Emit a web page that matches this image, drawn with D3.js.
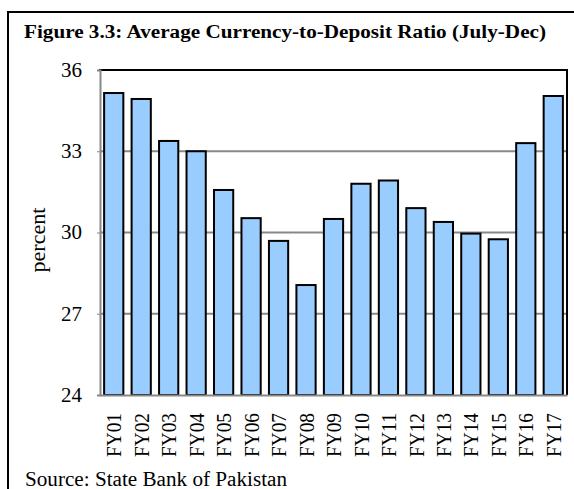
<!DOCTYPE html>
<html>
<head>
  <title>Currency-to-Deposit Ratio</title>
  <script src="https://d3js.org/d3.v7.min.js"></script>
  <style type="text/css">
    body { margin: 0; background: #fff; }
    svg { font-family: "Liberation Serif", "Times New Roman", serif; }
  </style>
</head>
<body>
  <div id="chart"></div>
  <script type="text/javascript">
    var years = ["FY01", "FY02", "FY03", "FY04", "FY05", "FY06", "FY07", "FY08", "FY09",
      "FY10", "FY11", "FY12", "FY13", "FY14", "FY15", "FY16", "FY17"];
    var ratios = [35.15, 34.93, 33.38, 33.0, 31.57, 30.53, 29.69, 28.06, 30.5,
      31.8, 31.92, 30.9, 30.39, 29.96, 29.75, 33.3, 35.04];
    var yTicks = [24, 27, 30, 33, 36];

    var data = years.map(function (y, i) { return { year: y, value: ratios[i] }; });

    var width = 574, height = 489;
    var plot = { left: 100, top: 70, right: 567, bottom: 395 };

    var svg = d3.select("#chart").append("svg")
      .attr("width", width)
      .attr("height", height);

    // outer frame (runs off the right and bottom edge)
    svg.append("rect")
      .attr("x", 8).attr("y", 12)
      .attr("width", 700).attr("height", 700)
      .attr("fill", "none")
      .attr("stroke", "#000")
      .attr("stroke-width", 2);

    svg.append("text")
      .attr("x", 24).attr("y", 38)
      .attr("font-size", 18)
      .attr("font-weight", "bold")
      .attr("textLength", 522)
      .attr("lengthAdjust", "spacingAndGlyphs")
      .text("Figure 3.3: Average Currency-to-Deposit Ratio (July-Dec)");

    var x = d3.scaleBand()
      .domain(years)
      .range([plot.left, plot.right])
      .paddingInner(0.3)
      .paddingOuter(0.15);

    var y = d3.scaleLinear()
      .domain([24, 36])
      .range([plot.bottom, plot.top]);

    // gridlines
    svg.append("g")
      .selectAll("line")
      .data(yTicks.filter(function (d) { return d > 24 && d < 36; }))
      .enter().append("line")
      .attr("x1", plot.left).attr("x2", plot.right)
      .attr("y1", function (d) { return y(d); })
      .attr("y2", function (d) { return y(d); })
      .attr("stroke", "#888")
      .attr("stroke-width", 2);

    // plot border
    svg.append("line")
      .attr("x1", plot.left - 1).attr("x2", plot.right + 1)
      .attr("y1", plot.top).attr("y2", plot.top)
      .attr("stroke", "#000").attr("stroke-width", 2);
    svg.append("line")
      .attr("x1", plot.right).attr("x2", plot.right)
      .attr("y1", plot.top).attr("y2", plot.bottom)
      .attr("stroke", "#000").attr("stroke-width", 2);

    // bars
    svg.append("g")
      .selectAll("rect")
      .data(data)
      .enter().append("rect")
      .attr("x", function (d) { return x(d.year); })
      .attr("width", x.bandwidth())
      .attr("y", function (d) { return y(d.value); })
      .attr("height", function (d) { return y(24) - y(d.value); })
      .attr("fill", "#99ccff")
      .attr("stroke", "#000")
      .attr("stroke-width", 2);

    // y axis
    var yAxis = svg.append("g")
      .attr("transform", "translate(" + plot.left + ",0)")
      .call(d3.axisLeft(y).tickValues(yTicks).tickSize(3).tickPadding(15));
    yAxis.select(".domain").attr("stroke", "#888").attr("stroke-width", 2);
    yAxis.selectAll(".tick line").attr("stroke", "#888");
    yAxis.selectAll("text")
      .attr("font-size", 20)
      .attr("font-family", "Liberation Serif")
      .attr("fill", "#000")
      .attr("textLength", 21)
      .attr("lengthAdjust", "spacingAndGlyphs");

    // x axis
    var xAxis = svg.append("g")
      .attr("transform", "translate(0," + plot.bottom + ")")
      .call(d3.axisBottom(x).tickSize(0).tickPadding(0));
    xAxis.select(".domain").attr("stroke", "#888").attr("stroke-width", 2);
    xAxis.selectAll("text")
      .attr("font-size", 20)
      .attr("font-family", "Liberation Serif")
      .attr("fill", "#000")
      .attr("transform", "rotate(-90)")
      .attr("text-anchor", "end")
      .attr("x", -18)
      .attr("y", 0)
      .attr("dy", "0.38em")
      .attr("textLength", 44)
      .attr("lengthAdjust", "spacingAndGlyphs");

    svg.append("text")
      .attr("transform", "translate(45,240) rotate(-90)")
      .attr("text-anchor", "middle")
      .attr("font-size", 20)
      .attr("textLength", 65)
      .attr("lengthAdjust", "spacingAndGlyphs")
      .text("percent");

    svg.append("text")
      .attr("x", 25).attr("y", 486)
      .attr("font-size", 20)
      .attr("textLength", 262)
      .attr("lengthAdjust", "spacingAndGlyphs")
      .text("Source: State Bank of Pakistan");
  </script>
</body>
</html>
